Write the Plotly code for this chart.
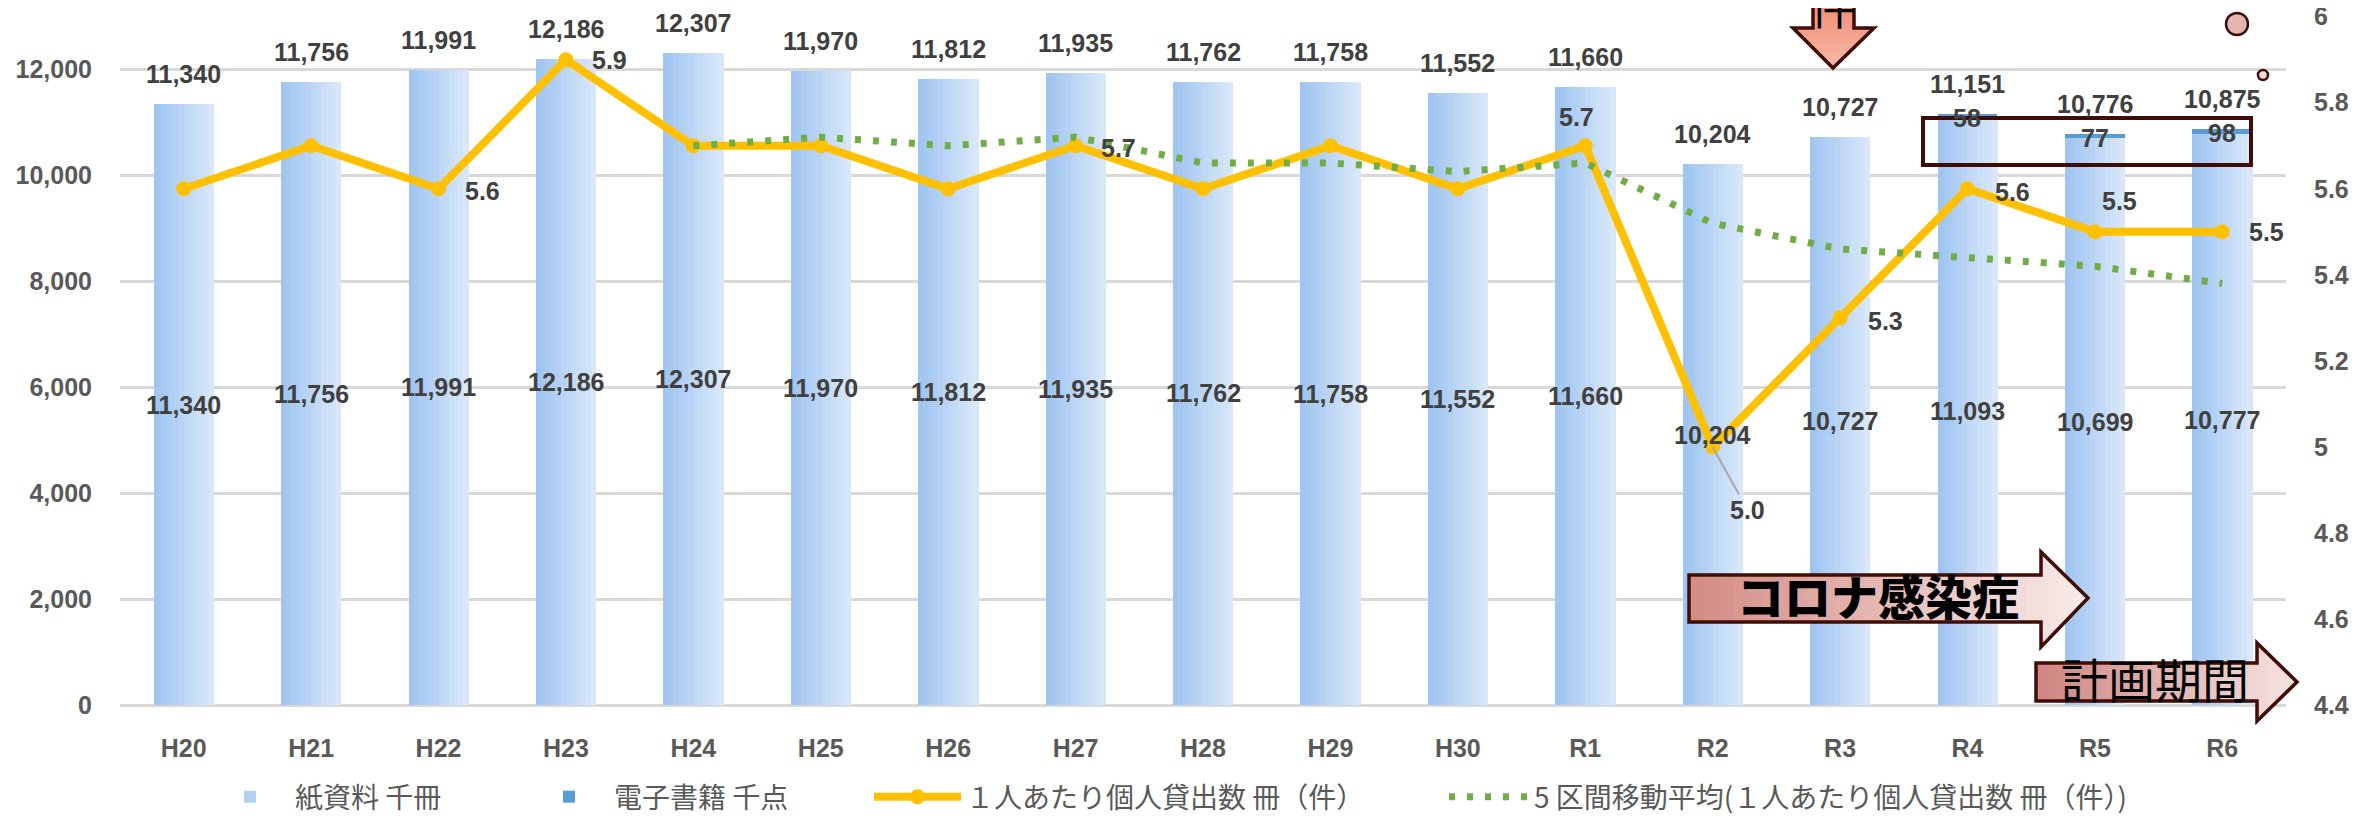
import plotly.graph_objects as go

# ---------------- data ----------------
categories = ["H20", "H21", "H22", "H23", "H24", "H25", "H26", "H27", "H28",
              "H29", "H30", "R1", "R2", "R3", "R4", "R5", "R6"]
paper_books = [11340, 11756, 11991, 12186, 12307, 11970, 11812, 11935, 11762,
               11758, 11552, 11660, 10204, 10727, 11093, 10699, 10777]
ebooks = [0, 0, 0, 0, 0, 0, 0, 0, 0, 0, 0, 0, 0, 0, 58, 77, 98]
totals = [11340, 11756, 11991, 12186, 12307, 11970, 11812, 11935, 11762,
          11758, 11552, 11660, 10204, 10727, 11151, 10776, 10875]
loans_per_person = [5.6, 5.7, 5.6, 5.9, 5.7, 5.7, 5.6, 5.7, 5.6, 5.7, 5.6, 5.7,
                    5.0, 5.3, 5.6, 5.5, 5.5]
moving_avg = [None, None, None, None, 5.70, 5.72, 5.70, 5.72, 5.66, 5.66, 5.64,
              5.66, 5.52, 5.46, 5.44, 5.42, 5.38]
loan_labels = ["", "", "5.6", "5.9", "", "", "", "5.7", "", "", "", "5.7",
               "5.0", "5.3", "5.6", "5.5", "5.5"]
left_tick_vals = [0, 2000, 4000, 6000, 8000, 10000, 12000]
right_tick_vals = [4.4, 4.6, 4.8, 5.0, 5.2, 5.4, 5.6, 5.8, 6.0]
right_tick_text = ["4.4", "4.6", "4.8", "5", "5.2", "5.4", "5.6", "5.8", "6"]
series_names = ["紙資料 千冊", "電子書籍 千点", "１人あたり個人貸出数 冊（件）",
                "5 区間移動平均(１人あたり個人貸出数 冊（件）)"]
note_corona = "コロナ感染症"
note_plan = "計画期間"
note_top = "件"

# ---------------- geometry / style ----------------
# screen coordinates (the page body adds an 8px margin around the figure)
SW, SH, OFF = 2377, 819, 8
FW, FH = SW - OFF, SH - OFF
SPL, SPR, SPT, SPB = 120, 2286, OFF, 705      # plot area on screen
Y1_TOP = 12000 * (SPB - SPT) / (SPB - 69.3)
Y2_TOP = 4.4 + 1.6 * (SPB - SPT) / (SPB - 16.7)

NUM_FONT = "Liberation Sans, Arial, sans-serif"
JP_FONT = "Noto Sans CJK JP, sans-serif"
LABEL_COLOR = "#404040"
TICK_COLOR = "#595959"
BROWN = "#3F0D05"


def xp(X):
    return (X - SPL) / (SPR - SPL)


def yp(Y):
    return (SPB - Y) / (SPB - SPT)


def lerp_color(c0, c1, t):
    return "rgb(%d,%d,%d)" % tuple(round(a + (b - a) * t) for a, b in zip(c0, c1))


fig = go.Figure()

# gradient bars (stripes of the same data)
BAR_W = 0.47
N_STRIPES = 12
c_left, c_right = (157, 195, 240), (219, 233, 250)
for i in range(N_STRIPES):
    t = (i + 0.5) / N_STRIPES
    fig.add_trace(go.Bar(
        x=categories, y=paper_books, yaxis="y",
        width=BAR_W / N_STRIPES + 0.003,
        offset=-BAR_W / 2 + i * BAR_W / N_STRIPES,
        marker=dict(color=lerp_color(c_left, c_right, t), line=dict(width=0)),
        name=series_names[0], legend="legend",
        showlegend=(i == N_STRIPES // 3), hoverinfo="skip",
    ))

fig.add_trace(go.Bar(
    x=categories, y=ebooks, base=paper_books, yaxis="y",
    width=BAR_W, offset=-BAR_W / 2,
    marker=dict(color="#5B9BD5", line=dict(width=0)),
    name=series_names[1], legend="legend2",
))

fig.add_trace(go.Scatter(
    x=categories, y=loans_per_person, yaxis="y2", mode="lines+markers",
    line=dict(color="#FFC000", width=8),
    marker=dict(color="#FFC000", size=15),
    name=series_names[2], legend="legend3",
))

fig.add_trace(go.Scatter(
    x=categories, y=moving_avg, yaxis="y2", mode="lines",
    line=dict(color="#70AD47", width=7, dash="6px,12px"),
    name=series_names[3], legend="legend4", connectgaps=False,
))

ann = []
lab_font = dict(family=NUM_FONT, size=25, color=LABEL_COLOR, weight="bold")
# inner labels, totals, e-book labels
for c, p, t, e in zip(categories, paper_books, totals, ebooks):
    ann.append(dict(x=c, y=p / 2, xref="x", yref="y", text=f"{p:,}",
                    showarrow=False, font=lab_font))
    ann.append(dict(x=c, y=t, xref="x", yref="y", text=f"{t:,}",
                    showarrow=False, font=lab_font, yshift=30))
    if e:
        ann.append(dict(x=c, y=t, xref="x", yref="y", text=f"{e}",
                        showarrow=False, font=lab_font, yshift=-4))

# line data label placement (pixels)
label_offsets = {"H22": (44, -2), "H23": (44, 0), "H27": (43, -2),
                 "R1": (-9, 29), "R3": (45, -3), "R4": (45, -3),
                 "R5": (25, 31), "R6": (44, 0)}
for c, v, txt in zip(categories, loans_per_person, loan_labels):
    if not txt:
        continue
    if c == "R2":
        ann.append(dict(x=c, y=v, xref="x", yref="y2", text=txt,
                        showarrow=True, arrowhead=0, arrowwidth=2,
                        arrowcolor="#A6A6A6", ax=35, ay=63, standoff=0,
                        font=lab_font))
    else:
        dx, dy = label_offsets[c]
        ann.append(dict(x=c, y=v, xref="x", yref="y2", text=txt,
                        showarrow=False, xshift=dx, yshift=dy, font=lab_font))

# ---------------- decorative shapes ----------------
shapes = []


def arrow_shapes(u0, uh, ut, b0, b1, h0, h1, tip, col0, col1, horizontal,
                 nb=24, nh=10):
    """Block arrow sliced into gradient strips along its axis."""
    def to_xy(u, v):
        return (xp(u), yp(v)) if horizontal else (xp(v), yp(u))

    def path(pts):
        return "M" + " L".join("%.5f,%.5f" % to_xy(u, v) for u, v in pts) + " Z"

    total = ut - u0
    for k in range(nb):
        a = u0 + (uh - u0) * k / nb
        b = u0 + (uh - u0) * (k + 1) / nb + 0.8
        t = ((a + b) / 2 - u0) / total
        shapes.append(dict(type="path", xref="paper", yref="paper",
                           path=path([(a, b0), (b, b0), (b, b1), (a, b1)]),
                           fillcolor=lerp_color(col0, col1, t),
                           line=dict(width=0), layer="above"))

    def top(u):
        return tip - (tip - h0) * (ut - u) / (ut - uh)

    def bot(u):
        return tip + (h1 - tip) * (ut - u) / (ut - uh)

    for k in range(nh):
        a = uh + (ut - uh) * k / nh
        b = min(uh + (ut - uh) * (k + 1) / nh + 0.8, ut)
        t = ((a + b) / 2 - u0) / total
        shapes.append(dict(type="path", xref="paper", yref="paper",
                           path=path([(a, top(a)), (b, top(b)), (b, bot(b)), (a, bot(a))]),
                           fillcolor=lerp_color(col0, col1, t),
                           line=dict(width=0), layer="above"))
    outline = [(u0, b0), (uh, b0), (uh, h0), (ut, tip), (uh, h1), (uh, b1), (u0, b1)]
    shapes.append(dict(type="path", xref="paper", yref="paper", path=path(outline),
                       fillcolor="rgba(0,0,0,0)",
                       line=dict(color=BROWN, width=3.5), layer="above"))


# コロナ感染症 arrow
arrow_shapes(1689, 2041, 2088, 575, 622, 552, 647, 598,
             (211, 138, 132), (248, 236, 234), True)
# 計画期間 arrow
arrow_shapes(2036, 2257, 2297, 663, 701, 643, 721, 682,
             (205, 133, 128), (246, 228, 226), True)
# top down arrow
arrow_shapes(-12, 28, 68, 1813, 1854, 1793, 1874, 1833,
             (237, 132, 104), (247, 184, 168), False, nb=10, nh=10)

# brown box around e-book labels
shapes.append(dict(type="rect", xref="paper", yref="paper",
                   x0=xp(1923), x1=xp(2251), y0=yp(118), y1=yp(165),
                   line=dict(color=BROWN, width=4), fillcolor="rgba(0,0,0,0)",
                   layer="above"))
# small circles
shapes.append(dict(type="circle", xref="paper", yref="paper",
                   x0=xp(2226), x1=xp(2248), y0=yp(13), y1=yp(35),
                   line=dict(color=BROWN, width=2.5), fillcolor="#E3B6B2"))
shapes.append(dict(type="circle", xref="paper", yref="paper",
                   x0=xp(2258), x1=xp(2268), y0=yp(70), y1=yp(80),
                   line=dict(color=BROWN, width=2.5), fillcolor="#F3DAD7"))
# right frame edge
shapes.append(dict(type="rect", xref="paper", yref="paper",
                   x0=xp(2370), x1=xp(2390), y0=yp(830), y1=yp(-10),
                   line=dict(width=0), fillcolor="#4A0E05"))

ann.append(dict(x=xp(1878), y=yp(594), xref="paper", yref="paper",
                xanchor="center", yanchor="middle",
                text=note_corona, showarrow=False,
                font=dict(family=JP_FONT, size=47, color="#000000", weight=900)))
ann.append(dict(x=xp(2155), y=yp(677), xref="paper", yref="paper",
                xanchor="center", yanchor="middle",
                text=note_plan, showarrow=False,
                font=dict(family=JP_FONT, size=47, color="#000000")))
ann.append(dict(x=xp(1833), y=yp(4), xref="paper", yref="paper",
                xanchor="center", yanchor="middle",
                text=note_top, showarrow=False,
                font=dict(family=JP_FONT, size=46, color="#000000")))

# ---------------- layout ----------------
leg_font = dict(family=JP_FONT, size=28, color=TICK_COLOR)
LEG_Y = yp(797)


def legend_at(xpx, itemwidth):
    return dict(x=xp(xpx), y=LEG_Y, xanchor="left", yanchor="middle",
                orientation="h", itemwidth=itemwidth, font=leg_font,
                bgcolor="rgba(0,0,0,0)", borderwidth=0, tracegroupgap=0)


tick_font = dict(family=NUM_FONT, size=25, color=TICK_COLOR, weight="bold")
fig.update_layout(
    width=FW, height=FH,
    margin=dict(l=SPL - OFF, r=FW - (SPR - OFF), t=SPT - OFF, b=FH - (SPB - OFF),
                autoexpand=False),
    paper_bgcolor="white", plot_bgcolor="white",
    barmode="overlay", bargap=0,
    showlegend=True,
    legend=legend_at(205, 80),
    legend2=legend_at(524, 80),
    legend3=legend_at(869, 87),
    legend4=legend_at(1444, 80),
    xaxis=dict(type="category", categoryarray=categories,
               range=[-0.5, len(categories) - 0.5],
               showgrid=False, showline=False, zeroline=False, ticks="",
               tickfont=tick_font, ticklabelstandoff=26),
    yaxis=dict(range=[0, Y1_TOP], tickmode="array", tickvals=left_tick_vals,
               tickformat=",", showgrid=True, gridcolor="#D9D9D9", gridwidth=3,
               zeroline=True, zerolinecolor="#D9D9D9", zerolinewidth=3,
               showline=False, ticks="", tickfont=tick_font,
               ticklabelstandoff=27, ticklabeloverflow="allow"),
    yaxis2=dict(range=[4.4, Y2_TOP], overlaying="y", side="right",
                tickmode="array", tickvals=right_tick_vals, ticktext=right_tick_text,
                showgrid=False, zeroline=False, showline=False, ticks="",
                tickfont=tick_font, ticklabelstandoff=27,
                ticklabeloverflow="allow"),
    annotations=ann,
    shapes=shapes,
)

fig.write_html("out.html")
